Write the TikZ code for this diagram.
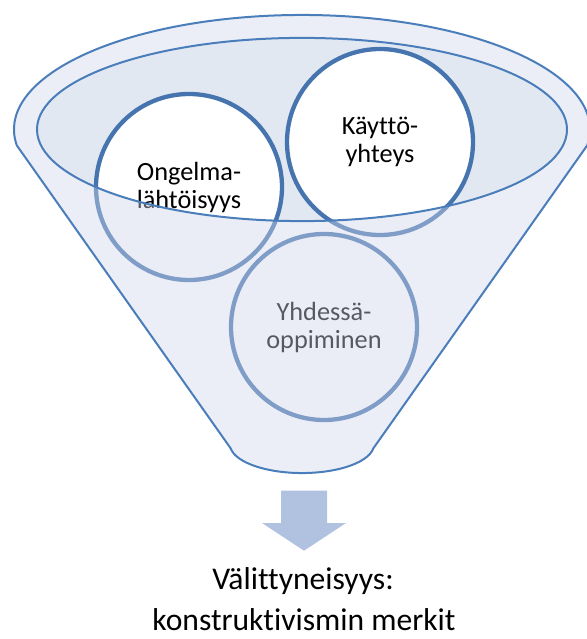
\documentclass[tikz,border=0pt]{standalone}
\usepackage{fontspec}
\setmainfont{Carlito}[Ligatures=NoCommon]

\definecolor{funnelline}{RGB}{74,126,187}
\definecolor{ringdark}{RGB}{70,116,175}
\definecolor{veil}{RGB}{207,214,233}
\definecolor{hollow}{RGB}{226,232,242}
\definecolor{arrowblue}{RGB}{176,194,224}

% Outline of the funnel: rim arc over the top, straight sides, rounded spout
\newcommand\funnelshape{(16.8,145.4) arc[start angle=172, end angle=368, x radius=288, y radius=114.5]
  -- (373.3,448.4) arc[start angle=8, end angle=172, x radius=72, y radius=28.625] -- cycle}
% Opening of the funnel
\newcommand\funnelmouth{(302,129.5) ellipse[x radius=265, y radius=91.6]}

\begin{document}
\begin{tikzpicture}[x=1pt, y=-1pt,
  ring/.style={circle, minimum size=186pt, inner sep=0pt, draw=ringdark,
    line width=4.3pt, fill=white, align=center, text=black,
    font=\fontsize{26.3}{28}\selectfont},
  rim/.style={draw=funnelline, line width=2pt},
  caption/.style={anchor=base, inner sep=0pt, text=black,
    font=\fontsize{31.6}{36}\selectfont},
]
\useasboundingbox (0,0) rectangle (586,639);

% inside of the opening
\fill[hollow] \funnelmouth;

% the three ideas dropped into the funnel
\node[ring] (ongelma) at (189,187) {Ongelma-\\lähtöisyys};
\node[ring] (kaytto)  at (380,142) {Käyttö-\\yhteys};
\node[ring] (yhdessa) at (324,327) {Yhdessä-\\oppiminen};

% translucent front wall of the funnel (the opening stays clear)
\fill[veil, fill opacity=0.42, even odd rule] \funnelshape \funnelmouth;

% outlines
\path[rim] \funnelshape;
\path[rim] \funnelmouth;

% outflow arrow
\coordinate (spout) at (304,490.7);
\fill[arrowblue] (spout) ++(-23,0) -- ++(46,0) -- ++(0,32.3) -- ++(19,0)
  -- (304,550.7) -- (262,523) -- ++(19,0) -- cycle;

% result
\node[caption] (result1) at (303,589) {Välittyneisyys:};
\node[caption] (result2) at (304,630) {konstruktivismin merkit};
\end{tikzpicture}
\end{document}
